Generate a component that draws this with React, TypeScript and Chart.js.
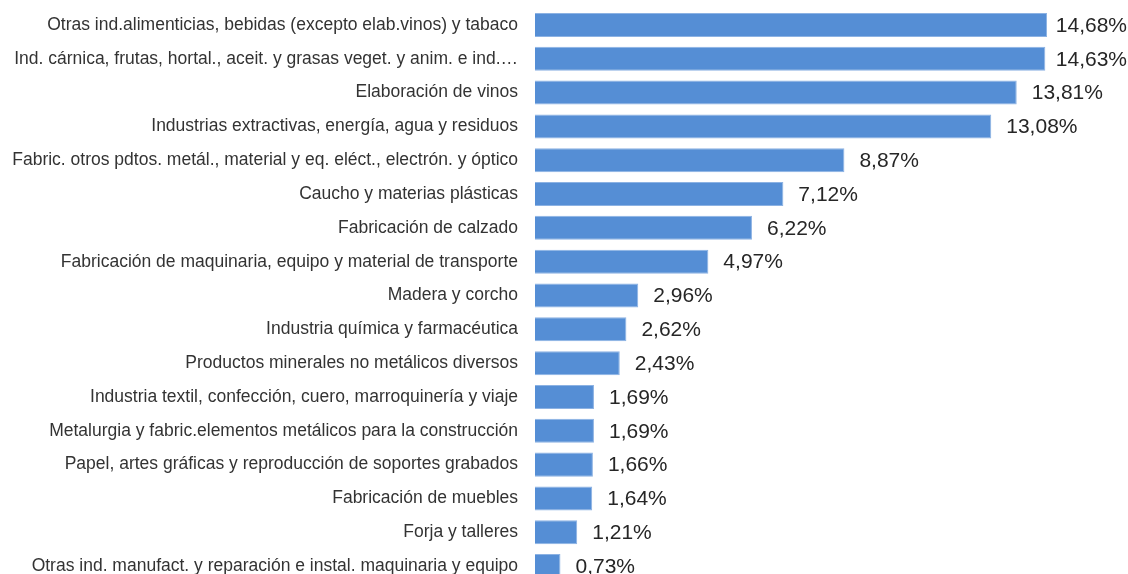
import React, { useEffect, useRef } from "react";
import { Chart, registerables } from "chart.js";

Chart.register(...registerables);

const categories: string[] = [
  "Otras ind.alimenticias, bebidas (excepto elab.vinos) y tabaco",
  "Ind. cárnica, frutas, hortal., aceit. y grasas veget. y anim. e ind.…",
  "Elaboración de vinos",
  "Industrias extractivas, energía, agua y residuos",
  "Fabric. otros pdtos. metál., material y eq. eléct., electrón. y óptico",
  "Caucho y materias plásticas",
  "Fabricación de calzado",
  "Fabricación de maquinaria, equipo y material de transporte",
  "Madera y corcho",
  "Industria química y farmacéutica",
  "Productos minerales no metálicos diversos",
  "Industria textil, confección, cuero, marroquinería y viaje",
  "Metalurgia y fabric.elementos metálicos para la construcción",
  "Papel, artes gráficas y reproducción de soportes grabados",
  "Fabricación de muebles",
  "Forja y talleres",
  "Otras ind. manufact. y reparación e instal. maquinaria y equipo",
];

const values: number[] = [
  14.68, 14.63, 13.81, 13.08, 8.87, 7.12, 6.22, 4.97, 2.96, 2.62, 2.43, 1.69,
  1.69, 1.66, 1.64, 1.21, 0.73,
];

const formatValue = (v: number) => v.toFixed(2).replace(".", ",") + "%";

const valueLabels = {
  id: "valueLabels",
  afterDatasetsDraw(chart: any) {
    const ctx = chart.ctx;
    const meta = chart.getDatasetMeta(0);
    ctx.save();
    ctx.font = "21px 'Liberation Sans', Arial, sans-serif";
    ctx.fillStyle = "#262626";
    ctx.textBaseline = "middle";
    ctx.textAlign = "left";
    meta.data.forEach((el: any, i: number) => {
      const text = formatValue(values[i]);
      const w = ctx.measureText(text).width;
      let x = el.x + 15;
      if (x + w > chart.width - 1) x = chart.width - 1 - w;
      ctx.fillText(text, x, el.y + 1);
    });
    ctx.restore();
  },
};

export default function App() {
  const canvasRef = useRef<HTMLCanvasElement | null>(null);

  useEffect(() => {
    document.body.style.margin = "0";
    const canvas = canvasRef.current;
    if (!canvas) return;
    const chart = new Chart(canvas, {
      type: "bar",
      data: {
        labels: categories,
        datasets: [
          {
            data: values,
            backgroundColor: "#558ed5",
            borderColor: "#8cb2e3",
            borderWidth: 1,
            barPercentage: 0.71,
            categoryPercentage: 1,
          },
        ],
      },
      options: {
        indexAxis: "y",
        animation: false,
        responsive: false,
        devicePixelRatio: 1,
        layout: { padding: { top: 8, bottom: 0, left: 0, right: 0 } },
        plugins: {
          legend: { display: false },
          tooltip: { enabled: false },
        },
        scales: {
          x: {
            display: false,
            min: 0,
            max: 17,
          },
          y: {
            grid: { display: false },
            border: { display: false },
            ticks: {
              autoSkip: false,
              padding: 9,
              color: "#333333",
              font: { family: "'Liberation Sans', Arial, sans-serif", size: 17.5 },
            },
            afterFit(scale: any) {
              scale.width = 535;
              scale.paddingTop = 0;
              scale.paddingBottom = 0;
            },
          },
        },
      },
      plugins: [valueLabels],
    });
    return () => chart.destroy();
  }, []);

  return (
    <div style={{ width: 1128, height: 574, overflow: "hidden" }}>
      <canvas ref={canvasRef} width={1128} height={583} style={{ display: "block" }} />
    </div>
  );
}
